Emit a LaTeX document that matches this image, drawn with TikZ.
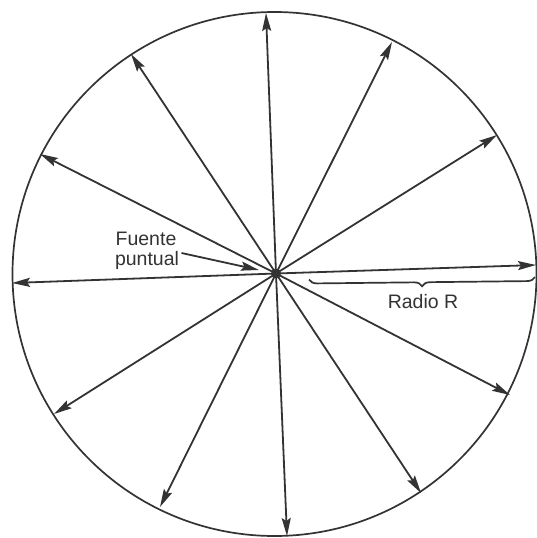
\documentclass[tikz,border=0pt]{standalone}
\usepackage{fontspec}
\setmainfont{Liberation Sans}
\usetikzlibrary{arrows.meta,decorations.pathreplacing}
\definecolor{ink}{HTML}{333333}
\begin{document}
\begin{tikzpicture}[x=1pt,y=-1pt,
  ray/.style={draw=ink,line width=1.8pt,-{Stealth[length=18pt,width=9pt,inset=3pt]}},
  lbl/.style={text=ink,font=\fontsize{19.5}{22}\selectfont,inner sep=0pt}]
\useasboundingbox (0,0) rectangle (536,538);
\fill[white] (0,0) rectangle (536,538);
\coordinate (src) at (276,273.5);
\draw[ink,line width=1.7pt] (274.5,274) circle[radius=262];
\coordinate (e1) at (266,13);
\coordinate (e2) at (392,42);
\coordinate (e3) at (497,135);
\coordinate (e4) at (536,265);
\coordinate (e5) at (510,395);
\coordinate (e6) at (421,493);
\coordinate (e7) at (287,536);
\coordinate (e8) at (160,507);
\coordinate (e9) at (54,414);
\coordinate (e10) at (12,283);
\coordinate (e11) at (40,154);
\coordinate (e12) at (131,54);
\foreach \i in {1,...,12} \draw[ray] (src) -- (e\i);
\fill[ink] (src) circle[radius=5];
\node[lbl] (fu) at (146,239) {Fuente};
\node[lbl] (pu) at (147,260) {puntual};
\coordinate (pt) at (181.5,253);
\coordinate (ph) at (259,270);
\draw[ray] (pt) -- (ph);
\coordinate (b1) at (309,279.5);
\coordinate (b2) at (535,277);
\draw[ink,line width=1.7pt,decorate,decoration={brace,mirror,amplitude=8pt}] (b1) -- (b2);
\node[lbl] (rr) at (423,301.5) {Radio R};
\end{tikzpicture}
\end{document}
